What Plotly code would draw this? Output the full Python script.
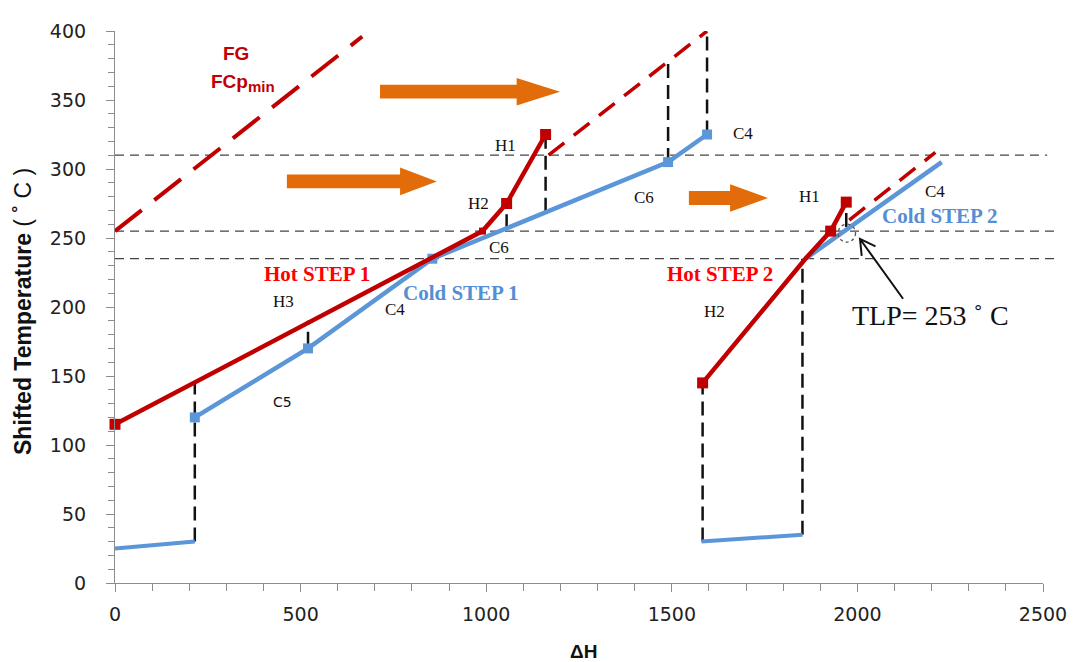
import plotly.graph_objects as go

# ---------------- data ----------------
hot1_x = [0, 990, 1055, 1160]
hot1_y = [115, 255, 275, 325]
hot1_marker = [11, 7, 11, 11]

cold1_x = [215, 520, 855, 1490, 1595]
cold1_y = [120, 170, 235, 305, 325]

cold1_low_x = [0, 215]
cold1_low_y = [25, 30]

hot2_x = [1583, 1860, 1928, 1970]
hot2_y = [145, 235, 255, 276]
hot2_marker = [11, 0, 11, 11]

cold2_x = [1860, 2227]
cold2_y = [235, 305]

cold2_low_x = [1580, 1852]
cold2_low_y = [30, 35]

# FCp,min dashed lines
fg1_x = [0, 666]
fg1_y = [255, 396]
fg2_x = [1168, 1595]
fg2_y = [310, 400]
fg3_x = [1978, 2210]
fg3_y = [263, 312]

# vertical black dashed connectors: x, y_low, y_high
vert_x = [215, 520, 1055, 1160, 1490, 1595, 1583, 1852, 1970]
vert_lo = [30, 172, 257, 269, 305, 325, 30, 35, 258]
vert_hi = [145, 190, 275, 325, 378, 400, 145, 235, 276]

# horizontal reference temperatures (end as fraction of x-axis length)
href_y = [310, 255, 235]
href_xend = [1.0045, 1.015, 1.015]

# small labels (text, x, y, font)
labels = [
    ("H1", 1053, 317, "serif"), ("H2", 978, 275, "serif"), ("C6", 1034, 243, "serif"),
    ("H3", 453, 204, "serif"), ("C4", 754, 198, "serif"), ("C5", 450, 131, "sans"),
    ("C6", 1425, 279, "serif"), ("C4", 1692, 326, "serif"), ("H1", 1872, 280, "serif"),
    ("C4", 2209, 284, "serif"), ("H2", 1616, 197, "serif"),
]
step_labels = [
    ("Hot STEP 1", 544, 224, "#FF0000"), ("Cold STEP 1", 932, 210, "#558ED5"),
    ("Hot STEP 2", 1630, 224, "#FF0000"), ("Cold STEP 2", 2223, 266, "#558ED5"),
]
# orange arrows: tail x, head base x, tip x, y
arrows = [(714, 1082, 1199, 356), (463, 768, 867, 291), (1546, 1657, 1759, 279)]

RED = "#C00000"
BLUE = "#5B96D8"
ORANGE = "#E36C0A"

fig = go.Figure()

def add_line(x, y, color, width=4.5, dash=None):
    fig.add_trace(go.Scatter(
        x=x, y=y, mode="lines",
        line=dict(color=color, width=width, dash=dash),
        showlegend=False, hoverinfo="skip"))

def add_marked(x, y, color, sizes):
    fig.add_trace(go.Scatter(
        x=x, y=y, mode="lines+markers",
        line=dict(color=color, width=4.5),
        marker=dict(symbol="square", size=sizes, color=color, opacity=1,
                    line=dict(width=0)),
        cliponaxis=False, showlegend=False, hoverinfo="skip"))

shapes = []
# reference horizontal dashed lines
for yv, xe in zip(href_y, href_xend):
    shapes.append(dict(type="line", xref="paper", yref="y", x0=0, x1=xe, y0=yv, y1=yv,
                       line=dict(color="#444444", width=1.3, dash="9px,6px"), layer="below"))

# vertical connectors
for xv, lo, hi in zip(vert_x, vert_lo, vert_hi):
    fig.add_trace(go.Scatter(x=[xv, xv], y=[lo, hi], mode="lines",
                             line=dict(color="#111111", width=2.5, dash="14px,7px"),
                             showlegend=False, hoverinfo="skip"))

# FCp min lines
add_line(fg1_x, fg1_y, RED, 4, dash="34px,16px")
add_line(fg2_x, fg2_y, RED, 3.5, dash="20px,12px")
add_line(fg3_x, fg3_y, RED, 3.5, dash="20px,12px")

# cold curves
add_line(cold1_low_x, cold1_low_y, BLUE, 4)
add_line(cold2_low_x, cold2_low_y, BLUE, 4)
add_marked(cold1_x, cold1_y, BLUE, 10)
add_line(cold2_x, cold2_y, BLUE, 4.5)

# hot curves
add_marked(hot1_x, hot1_y, RED, hot1_marker)
add_marked(hot2_x, hot2_y, RED, hot2_marker)

for tail, base, tip, yc in arrows:
    hb, hh = 5.0, 10.0
    path = (f"M {tail},{yc-hb} L {base},{yc-hb} L {base},{yc-hh} L {tip},{yc} "
            f"L {base},{yc+hh} L {base},{yc+hb} L {tail},{yc+hb} Z")
    shapes.append(dict(type="path", xref="x", yref="y", path=path,
                       fillcolor=ORANGE, line=dict(width=0)))

# TLP circle and pointer
shapes.append(dict(type="circle", xref="x", yref="y", x0=1948, x1=1995, y0=247, y1=260,
                   line=dict(color="#555555", width=1.3, dash="dot")))
shapes.append(dict(type="path", xref="x", yref="y",
                   path="M 2123,206 L 2007,249.3 M 2011.6,237 L 2007,249.3 L 2048.8,244",
                   line=dict(color="#111111", width=2)))

annotations = []
for t, x, y, f in labels:
    fam = "Liberation Serif" if f == "serif" else "DejaVu Sans"
    sz = 17 if f == "serif" else 14
    annotations.append(dict(text=t, x=x, y=y, xref="x", yref="y", showarrow=False,
                            font=dict(family=fam, size=sz, color="#111111")))
for t, x, y, c in step_labels:
    annotations.append(dict(text=f"<b>{t}</b>", x=x, y=y, xref="x", yref="y", showarrow=False,
                            font=dict(family="Liberation Serif", size=21, color=c)))
annotations.append(dict(text="<b>FG</b>", x=326, y=384, xref="x", yref="y", showarrow=False,
                        font=dict(family="Liberation Sans", size=19, color=RED)))
annotations.append(dict(text="<b>FCp<sub><span style='font-size:15px'>min</span></sub></b>",
                        x=345, y=362, xref="x", yref="y", showarrow=False,
                        font=dict(family="Liberation Sans", size=19, color=RED)))
annotations.append(dict(text="TLP= 253 ˚ C", x=2198, y=194, xref="x", yref="y", showarrow=False,
                        font=dict(family="Liberation Serif", size=28, color="#111111")))
annotations.append(dict(text="<b>Shifted Temperature</b> ( ˚ C )", x=-0.0991, y=0.491,
                        xref="paper", yref="paper", showarrow=False, textangle=-90,
                        xanchor="center", yanchor="middle",
                        font=dict(family="Liberation Sans", size=23, color="#111111")))
annotations.append(dict(text="<b>ΔH</b>", x=0.505, y=-0.124, xref="paper", yref="paper",
                        showarrow=False, xanchor="center", yanchor="middle",
                        font=dict(family="Liberation Sans", size=19, color="#111111")))

axis_common = dict(showgrid=False, zeroline=False, showline=True, linecolor="#8C8C8C",
                   linewidth=1.2, ticks="outside", ticklen=8, tickcolor="#8C8C8C",
                   tickfont=dict(family="DejaVu Sans", size=19, color="#222222"))

fig.update_layout(
    width=1087, height=662,
    margin=dict(l=107, r=52, t=15, b=87),
    plot_bgcolor="white", paper_bgcolor="white",
    xaxis=dict(range=[0, 2500], tickvals=[0, 500, 1000, 1500, 2000, 2500],
               minor=dict(dtick=100, tick0=0, ticks="outside", ticklen=7, tickcolor="#8C8C8C"),
               ticklabelstandoff=6, **axis_common),
    yaxis=dict(range=[0, 400], tickvals=[0, 50, 100, 150, 200, 250, 300, 350, 400],
               minor=dict(dtick=10, tick0=0, ticks="outside", ticklen=6, tickcolor="#8C8C8C"),
               ticklabelstandoff=16, **axis_common),
    shapes=shapes, annotations=annotations,
)

fig.write_html("out.html")
